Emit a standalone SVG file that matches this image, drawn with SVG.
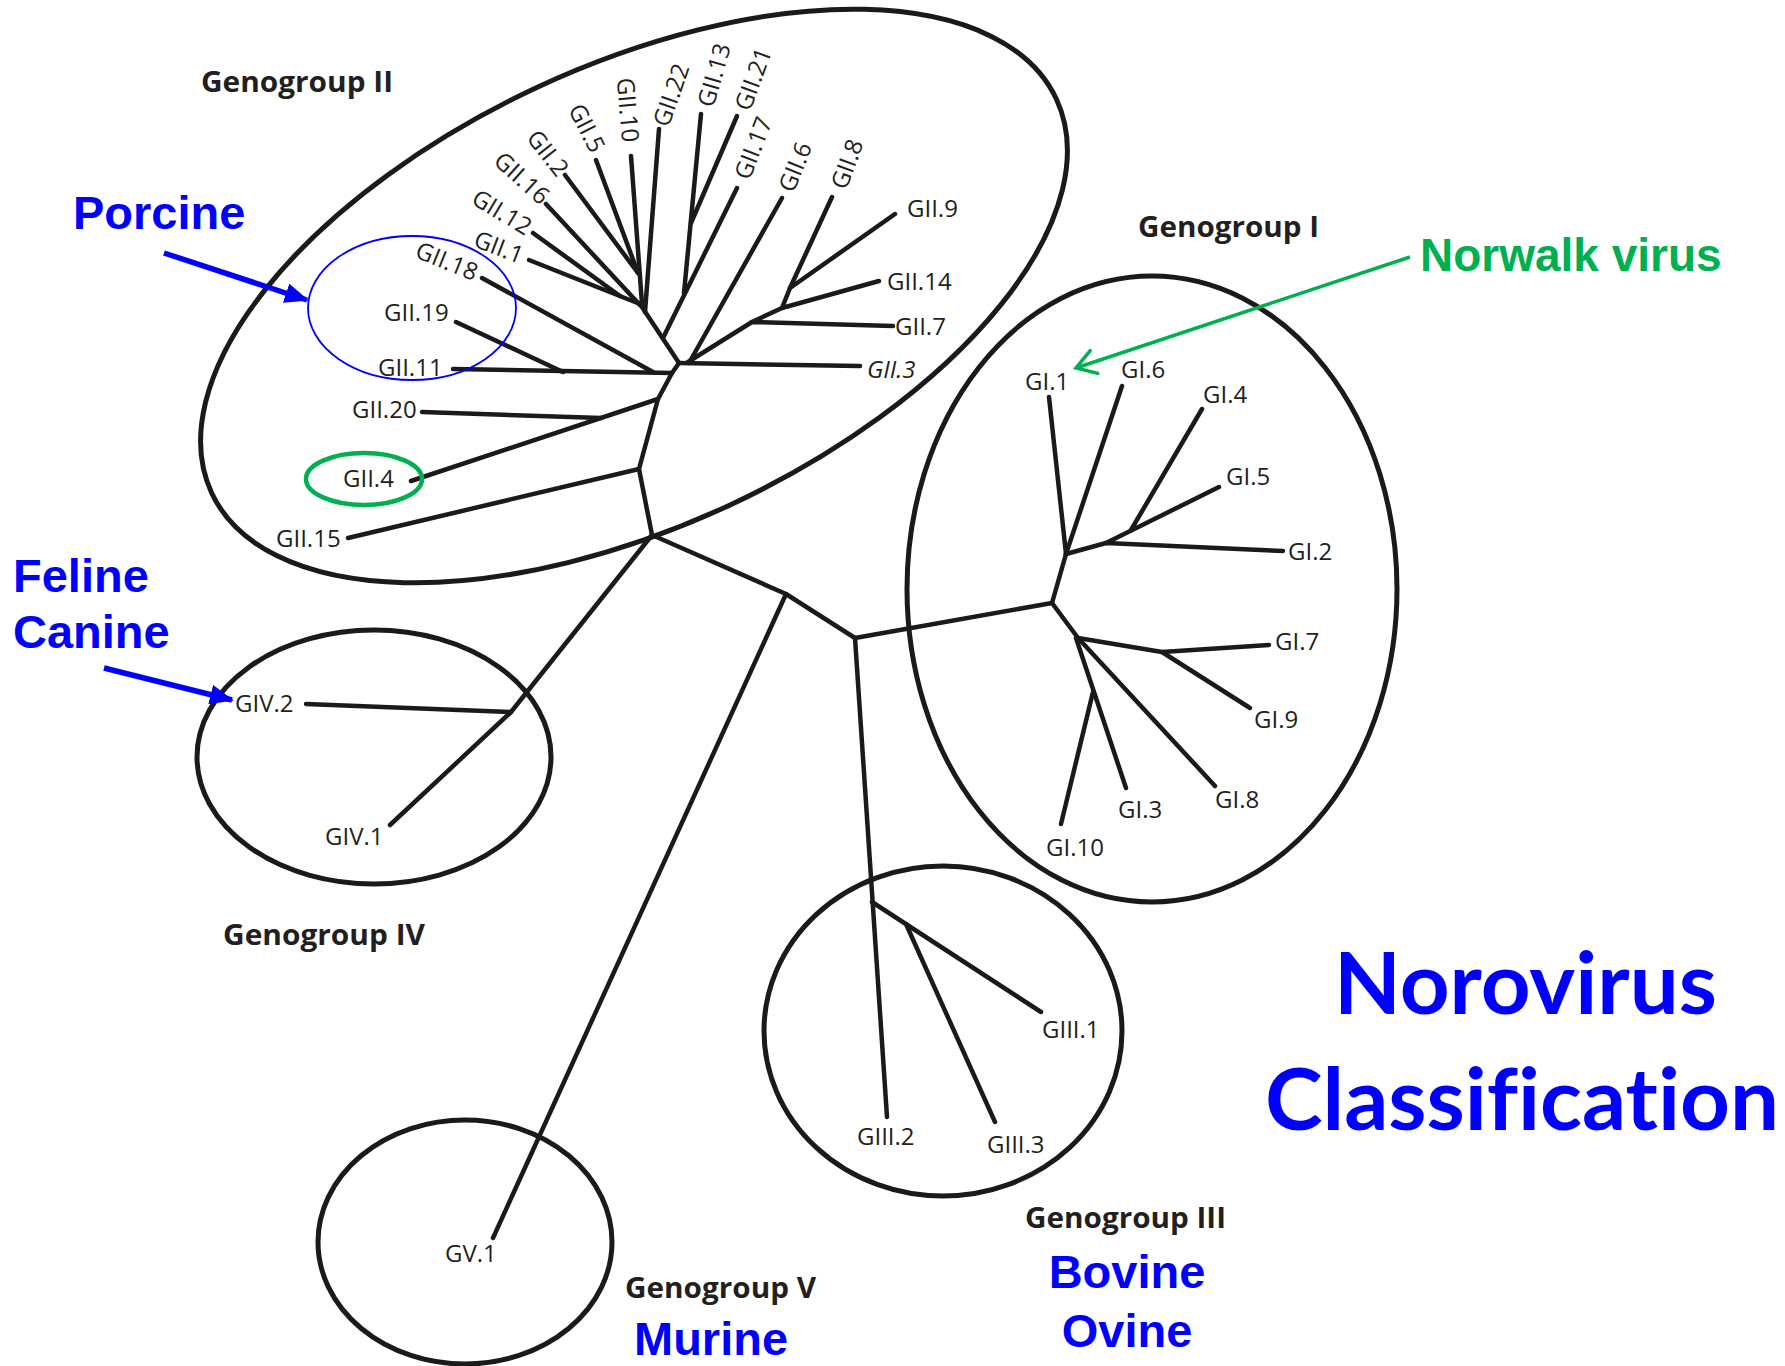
<svg xmlns="http://www.w3.org/2000/svg" width="1785" height="1366" viewBox="0 0 1785 1366">
<style>
.br{fill:none;stroke:#1a1a1a;stroke-width:4.5;stroke-linecap:round;stroke-linejoin:round}
.el{fill:none;stroke:#1a1a1a;stroke-width:5}
.lb{font-family:"Open Sans","Liberation Sans",sans-serif;font-size:24px;fill:#231f20}
.hd{font-family:"Open Sans","Liberation Sans",sans-serif;font-weight:bold;font-size:28px;fill:#231f20}
.bl{font-family:"Liberation Sans",Arial,sans-serif;font-weight:bold;font-size:47px;fill:#0000FF}
.gr{font-family:"Liberation Sans",Arial,sans-serif;font-weight:bold;font-size:46px;fill:#00B050}
.tt{font-family:Lato,"Open Sans",sans-serif;font-weight:bold;font-size:86px;fill:#0000FF;font-variant-ligatures:none}
</style>
<defs>
<marker id="blueHead" markerUnits="userSpaceOnUse" viewBox="0 0 24 20" refX="22" refY="10" markerWidth="24" markerHeight="20" orient="auto">
<path d="M0,0 L24,10 L0,20 Z" fill="#0000FF"/>
</marker>
<marker id="greenHead" markerUnits="userSpaceOnUse" viewBox="0 0 26 30" refX="23" refY="15" markerWidth="26" markerHeight="30" orient="auto">
<path d="M4,3 L23,15 L4,27" fill="none" stroke="#00B050" stroke-width="3.5" stroke-linecap="round"/>
</marker>
</defs>
<rect width="1785" height="1366" fill="#ffffff"/>

<g id="genogroup-II">
<ellipse class="el" cx="634" cy="296" rx="466" ry="230" transform="rotate(-25 634 296)"/>
<text class="hd" x="201" y="92" textLength="192" lengthAdjust="spacingAndGlyphs">Genogroup II</text>
</g>
<g id="genogroup-I">
<ellipse class="el" cx="1152" cy="589" rx="245" ry="313"/>
<text class="hd" x="1138" y="237" textLength="181" lengthAdjust="spacingAndGlyphs">Genogroup I</text>
</g>
<g id="genogroup-IV">
<ellipse class="el" cx="374" cy="757" rx="177" ry="127"/>
<text class="hd" x="223" y="945" textLength="202" lengthAdjust="spacingAndGlyphs">Genogroup IV</text>
</g>
<g id="genogroup-III">
<ellipse class="el" cx="943" cy="1031" rx="179" ry="165"/>
<text class="hd" x="1025" y="1228" textLength="201" lengthAdjust="spacingAndGlyphs">Genogroup III</text>
</g>
<g id="genogroup-V">
<ellipse class="el" cx="465" cy="1242" rx="147" ry="122"/>
<text class="hd" x="625" y="1298" textLength="191" lengthAdjust="spacingAndGlyphs">Genogroup V</text>
</g>

<g id="connectors">
<path class="br" d="M679,363 L672,373 L658,399 L639,469 L652,535"/>
<path class="br" d="M640,304 L679,363"/>
<path class="br" d="M529,260 L640,304"/>
<path class="br" d="M533,233 L620,296"/>
<path class="br" d="M546,204 L640,305"/>
<path class="br" d="M565,175 L638,273"/>
<path class="br" d="M596,160 L638,273"/>
<path class="br" d="M631,156 L642,304"/>
<path class="br" d="M659,129 L645,312"/>
<path class="br" d="M737,188 L663,338"/>
<path class="br" d="M701,114 L684,293"/>
<path class="br" d="M737,116 L691,223"/>
<path class="br" d="M782,198 L689,363"/>
<path class="br" d="M679,363 L860,366"/>
<path class="br" d="M688,362 L752,322 L893,326"/>
<path class="br" d="M752,322 L782,308 L879,281"/>
<path class="br" d="M782,308 L790,288 L832,197"/>
<path class="br" d="M790,288 L895,214"/>
<path class="br" d="M482,278 L653,372"/>
<path class="br" d="M456,322 L563,372"/>
<path class="br" d="M453,369 L672,373"/>
<path class="br" d="M422,412 L601,418"/>
<path class="br" d="M411,481 L658,399"/>
<path class="br" d="M348,538 L639,469"/>
<path class="br" d="M652,535 L786,594 L855,638"/>
<path class="br" d="M652,535 L511,712"/>
<path class="br" d="M306,704 L511,712"/>
<path class="br" d="M390,825 L511,712"/>
<path class="br" d="M786,594 L493,1238"/>
<path class="br" d="M855,638 L887,1117"/>
<path class="br" d="M872,902 L1041,1012"/>
<path class="br" d="M906,924 L995,1122"/>
<path class="br" d="M855,638 L1052,603 L1066,554"/>
<path class="br" d="M1066,554 L1049,397"/>
<path class="br" d="M1066,554 L1122,386"/>
<path class="br" d="M1066,554 L1106,543 L1283,551"/>
<path class="br" d="M1106,543 L1219,487"/>
<path class="br" d="M1131,530 L1202,409"/>
<path class="br" d="M1052,603 L1078,638"/>
<path class="br" d="M1078,638 L1162,652 L1269,645"/>
<path class="br" d="M1162,652 L1250,708"/>
<path class="br" d="M1078,638 L1215,786"/>
<path class="br" d="M1076,638 L1126,788"/>
<path class="br" d="M1093,692 L1061,824"/>
</g>

<g id="leaves-GII">
<g id="GII.18"><text class="lb" text-anchor="middle" dy="0.357em" transform="translate(447 261) rotate(22)">GII.18</text></g>
<g id="GII.1"><text class="lb" text-anchor="middle" dy="0.357em" transform="translate(499 247) rotate(21)">GII.1</text></g>
<g id="GII.12"><text class="lb" text-anchor="middle" dy="0.357em" transform="translate(502 212) rotate(31)">GII.12</text></g>
<g id="GII.16"><text class="lb" text-anchor="middle" dy="0.357em" transform="translate(522 178) rotate(42)">GII.16</text></g>
<g id="GII.2"><text class="lb" text-anchor="middle" dy="0.357em" transform="translate(548 153) rotate(52)">GII.2</text></g>
<g id="GII.5"><text class="lb" text-anchor="middle" dy="0.357em" transform="translate(587 128) rotate(63)">GII.5</text></g>
<g id="GII.10"><text class="lb" text-anchor="middle" dy="0.357em" transform="translate(628 110) rotate(85)">GII.10</text></g>
<g id="GII.22"><text class="lb" text-anchor="middle" dy="0.357em" transform="translate(671 95) rotate(-71)">GII.22</text></g>
<g id="GII.13"><text class="lb" text-anchor="middle" dy="0.357em" transform="translate(714 75) rotate(-74)">GII.13</text></g>
<g id="GII.21"><text class="lb" text-anchor="middle" dy="0.357em" transform="translate(753 79) rotate(-70)">GII.21</text></g>
<g id="GII.17"><text class="lb" text-anchor="middle" dy="0.357em" transform="translate(753 148) rotate(-69)">GII.17</text></g>
<g id="GII.6"><text class="lb" text-anchor="middle" dy="0.357em" transform="translate(795 167) rotate(-68)">GII.6</text></g>
<g id="GII.8"><text class="lb" text-anchor="middle" dy="0.357em" transform="translate(847 164) rotate(-70)">GII.8</text></g>
<g id="GII.9"><text class="lb" x="907" y="217">GII.9</text></g>
<g id="GII.14"><text class="lb" x="887" y="290">GII.14</text></g>
<g id="GII.7"><text class="lb" x="895" y="335">GII.7</text></g>
<g id="GII.3"><text class="lb" x="867" y="378" font-style="italic">GII.3</text></g>
<g id="GII.19"><text class="lb" x="384" y="321">GII.19</text></g>
<g id="GII.11"><text class="lb" x="378" y="376">GII.11</text></g>
<g id="GII.20"><text class="lb" x="352" y="418">GII.20</text></g>
<g id="GII.4"><text class="lb" x="343" y="487">GII.4</text></g>
<g id="GII.15"><text class="lb" x="276" y="547">GII.15</text></g>
</g>

<g id="leaves-GI">
<g id="GI.1"><text class="lb" x="1025" y="390">GI.1</text></g>
<g id="GI.6"><text class="lb" x="1121" y="378">GI.6</text></g>
<g id="GI.4"><text class="lb" x="1203" y="403">GI.4</text></g>
<g id="GI.5"><text class="lb" x="1226" y="485">GI.5</text></g>
<g id="GI.2"><text class="lb" x="1288" y="560">GI.2</text></g>
<g id="GI.7"><text class="lb" x="1275" y="650">GI.7</text></g>
<g id="GI.9"><text class="lb" x="1254" y="728">GI.9</text></g>
<g id="GI.8"><text class="lb" x="1215" y="808">GI.8</text></g>
<g id="GI.3"><text class="lb" x="1118" y="818">GI.3</text></g>
<g id="GI.10"><text class="lb" x="1046" y="856">GI.10</text></g>
</g>

<g id="leaves-other">
<g id="GIV.2"><text class="lb" x="235" y="712">GIV.2</text></g>
<g id="GIV.1"><text class="lb" x="325" y="845">GIV.1</text></g>
<g id="GIII.1"><text class="lb" x="1042" y="1038">GIII.1</text></g>
<g id="GIII.2"><text class="lb" x="857" y="1145">GIII.2</text></g>
<g id="GIII.3"><text class="lb" x="987" y="1153">GIII.3</text></g>
<g id="GV.1"><text class="lb" x="445" y="1262">GV.1</text></g>
</g>

<g id="annotations">
<ellipse cx="412" cy="308" rx="104" ry="72" fill="none" stroke="#0000FF" stroke-width="1.8"/>
<ellipse cx="364" cy="479" rx="58" ry="26" fill="none" stroke="#00B050" stroke-width="4.5"/>
<g id="porcine">
<text class="bl" x="73" y="229">Porcine</text>
<line x1="164" y1="253" x2="307" y2="300" stroke="#0000FF" stroke-width="5.5" marker-end="url(#blueHead)"/>
</g>
<g id="feline-canine">
<text class="bl" x="13" y="592">Feline</text>
<text class="bl" x="13" y="648">Canine</text>
<line x1="104" y1="668" x2="232" y2="700" stroke="#0000FF" stroke-width="5.5" marker-end="url(#blueHead)"/>
</g>
<g id="norwalk">
<text class="gr" x="1420" y="271">Norwalk virus</text>
<line x1="1410" y1="257" x2="1076" y2="368" stroke="#00B050" stroke-width="3.5" marker-end="url(#greenHead)"/>
</g>
<g id="bovine-ovine">
<text class="bl" x="1127" y="1288" text-anchor="middle">Bovine</text>
<text class="bl" x="1127" y="1347" text-anchor="middle">Ovine</text>
</g>
<g id="murine"><text class="bl" x="634" y="1355">Murine</text></g>
<g id="title">
<text class="tt" x="1334" y="1014" textLength="383" lengthAdjust="spacingAndGlyphs">Norovirus</text>
<text class="tt" x="1265" y="1130" textLength="514" lengthAdjust="spacingAndGlyphs">Classification</text>
</g>
</g>
</svg>
